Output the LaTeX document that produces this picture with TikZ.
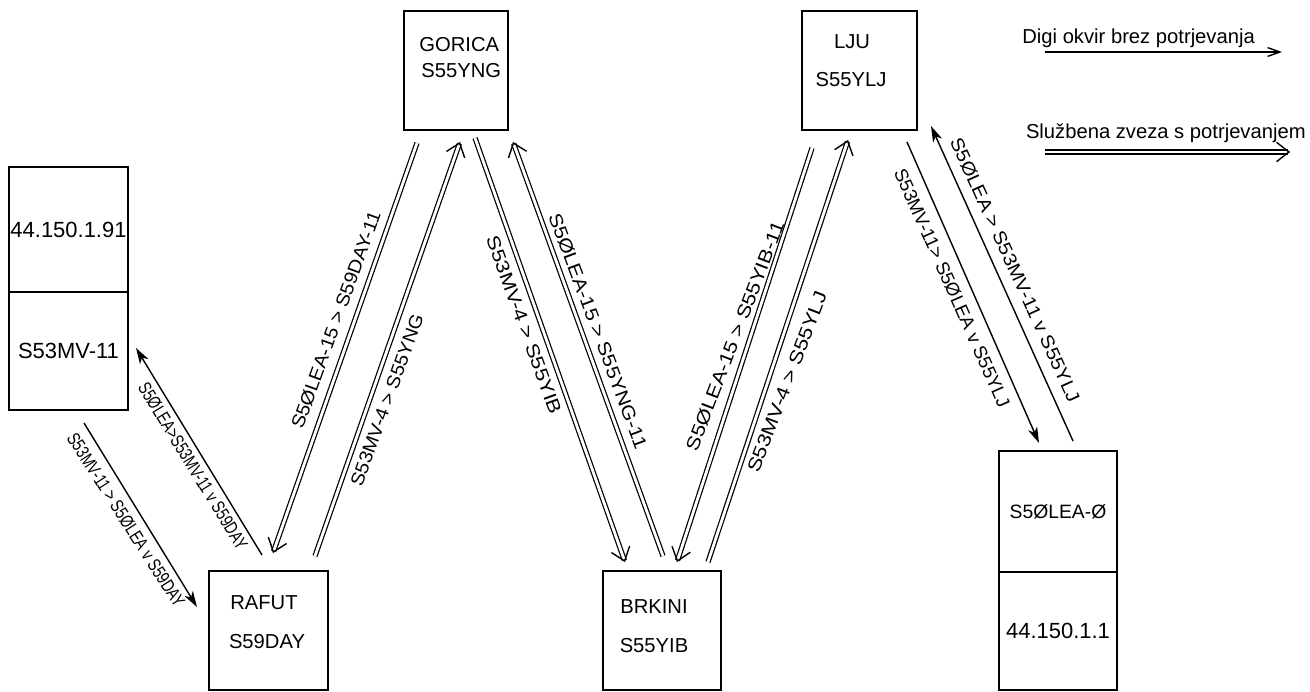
\documentclass[tikz,border=0pt]{standalone}
\usepackage{fontspec}
\setmainfont{Liberation Sans}
\usetikzlibrary{arrows.meta,calc}
\tikzset{
  box/.style={draw, line width=1pt, inner sep=0pt, font=\fontsize{12.5pt}{14pt}\selectfont},
  btxt/.style={inner sep=0pt, font=\fontsize{11.5pt}{13pt}\selectfont},
  lab/.style={inner sep=0pt, font=\fontsize{10.5pt}{12pt}\selectfont},
  leg/.style={inner sep=0pt, font=\fontsize{11.5pt}{14pt}\selectfont},
  single/.style={line width=0.8pt, -{Stealth[length=9pt,width=5.5pt,inset=2.5pt]}},
  dbl/.style={line width=0.7pt, double, double distance=1.6pt, shorten >=1pt},
  dbltip/.style={line width=0.8pt, -{Straight Barb[length=7pt,width=11pt]}},
}
\newcommand{\dblarrow}[2]{%
  \draw[dbl] (#1) -- (#2);
  \draw[dbltip] ($(#1)!0.998!(#2)$) -- (#2);
}
\begin{document}
\begin{tikzpicture}[x=0.02cm, y=-0.02cm]
\useasboundingbox (0,0) rectangle (1310,692);

% boxes
\node[box, minimum width=2.38cm, minimum height=2.50cm] (ipL) at (68.5,229.5) {44.150.1.91};
\node[box, minimum width=2.38cm, minimum height=2.36cm] (callL) at (68.5,351) {S53MV-11};
\node[box, minimum width=2.08cm, minimum height=2.38cm] (gorica) at (456,70.5) {};
\node[box, minimum width=2.30cm, minimum height=2.38cm] (lju) at (859.5,70.5) {};
\node[box, minimum width=2.38cm, minimum height=2.38cm] (rafut) at (268.5,630.5) {};
\node[box, minimum width=2.36cm, minimum height=2.38cm] (brkini) at (662,630.5) {};
\node[box, minimum width=2.36cm, minimum height=2.42cm, font=\fontsize{11pt}{13pt}\selectfont] (callR) at (1058,511.5) {S5ØLEA-Ø};
\node[box, minimum width=2.36cm, minimum height=2.36cm] (ipR) at (1058,631) {44.150.1.1};

% box texts
\node[btxt, anchor=west] (gorT1) at (419,45) {GORICA};
\node[btxt, anchor=west] (gorT2) at (421,71) {S55YNG};
\node[btxt] (ljuT1) at (852,42) {LJU};
\node[btxt] (ljuT2) at (851,80) {S55YLJ};
\node[btxt] (rafT1) at (264,603) {RAFUT};
\node[btxt] (rafT2) at (267,642) {S59DAY};
\node[btxt] (brkT1) at (654,607) {BRKINI};
\node[btxt] (brkT2) at (654,646) {S55YIB};

% connector end points
\coordinate (c1a) at (84,423);   \coordinate (c1b) at (197,607);
\coordinate (c2a) at (262,555);  \coordinate (c2b) at (136,348);
\coordinate (c3a) at (417,143);  \coordinate (c3b) at (273,553);
\coordinate (c4a) at (315,556);  \coordinate (c4b) at (460,142);
\coordinate (c5a) at (475,138);  \coordinate (c5b) at (625,562);
\coordinate (c6a) at (663,556);  \coordinate (c6b) at (513,142);
\coordinate (c7a) at (812,148);  \coordinate (c7b) at (677,562);
\coordinate (c8a) at (708,562);  \coordinate (c8b) at (848,140);
\coordinate (c9a) at (907,142);  \coordinate (c9b) at (1039,443);
\coordinate (c10a) at (1073,441); \coordinate (c10b) at (931,126);
\coordinate (l1a) at (1045,52);  \coordinate (l1b) at (1282,52);
\coordinate (l2a) at (1045,152); \coordinate (l2b) at (1290,152);

% connectors
\draw[single] (c1a) -- (c1b);
\draw[single] (c2a) -- (c2b);
\dblarrow{c3a}{c3b}
\dblarrow{c4a}{c4b}
\dblarrow{c5a}{c5b}
\dblarrow{c6a}{c6b}
\dblarrow{c7a}{c7b}
\dblarrow{c8a}{c8b}
\draw[single] (c9a) -- (c9b);
\draw[single] (c10a) -- (c10b);

% labels
\node[lab, rotate=-57.5, xscale=0.76] (t1) at (126,520) {S53MV-11 > S5ØLEA v S59DAY};
\node[lab, rotate=-58.5, xscale=0.75] (t2) at (193,466) {S5ØLEA>S53MV-11 v S59DAY};
\node[lab, rotate=70, xscale=1.08] (t3) at (336,320) {S5ØLEA-15 > S59DAY-11};
\node[lab, rotate=70, xscale=1.07] (t4) at (387,400) {S53MV-4 > S55YNG};
\node[lab, rotate=-70, xscale=1.18] (t5) at (524,325) {S53MV-4 > S55YIB};
\node[lab, rotate=-69.5, xscale=1.15] (t6) at (598,331) {S5ØLEA-15 > S55YNG-11};
\node[lab, rotate=69, xscale=1.18] (t7) at (735,336) {S5ØLEA-15 > S55YIB-11};
\node[lab, rotate=69, xscale=1.19] (t8) at (787,382) {S53MV-4 > S55YLJ};
\node[lab, rotate=-66, xscale=1.01] (t9) at (952,288) {S53MV-11> S5ØLEA v S55YLJ};
\node[lab, rotate=-65.5, xscale=1.10] (t10) at (1015,270) {S5ØLEA > S53MV-11 v S55YLJ};

% legend
\node[leg, anchor=west] (leg1) at (1022,38) {Digi okvir brez potrjevanja};
\node[leg, anchor=east] (leg2) at (1306,133) {Službena zveza s potrjevanjem};
\draw[line width=0.8pt, -{Straight Barb[length=7pt,width=5pt]}] (l1a) -- (l1b);
\dblarrow{l2a}{l2b}
\end{tikzpicture}
\end{document}
